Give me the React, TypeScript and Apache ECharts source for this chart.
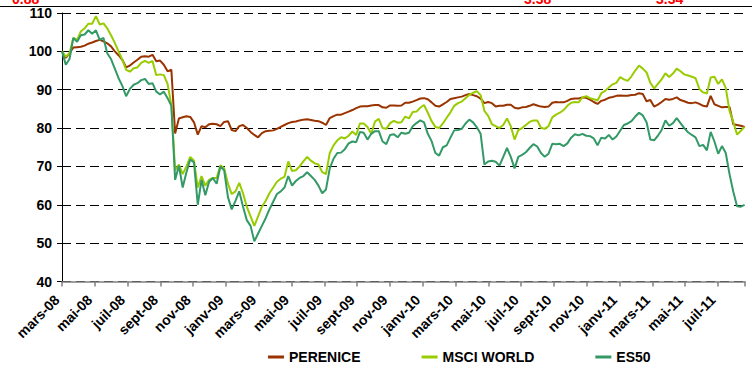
import React, { useEffect, useRef } from "react";
import * as echarts from "echarts";

const monthLabels = [
  "mars-08", "mai-08", "juil-08", "sept-08", "nov-08", "janv-09", "mars-09",
  "mai-09", "juil-09", "sept-09", "nov-09", "janv-10", "mars-10", "mai-10",
  "juil-10", "sept-10", "nov-10", "janv-11", "mars-11", "mai-11", "juil-11",
];

const seriesNames = ["PERENICE", "MSCI WORLD", "ES50"];
const seriesColors = ["#993300", "#99CC00", "#339966"];

// weekly closes from the first week of March 2008
const startDate = "2008-03-01";

const perenice = [
  100, 98.3, 99.5, 101, 101.1, 101.2, 101.5, 102, 102.3, 102.7,
  103, 102.6, 102.1, 101.3, 100, 99, 97.8, 95.8, 96.3, 97.1,
  97.8, 98.6, 98.7, 98.6, 99.1, 97.4, 97.6, 96.5, 94.8, 95.2,
  78.6, 82.5, 82.8, 83.1, 82.9, 81.5, 78.3, 80.5, 80.2, 81,
  81.1, 81, 80.5, 81.6, 81.8, 79.5, 79.2, 80.5, 80.8, 80,
  79, 78.2, 77.6, 78.7, 79.2, 79.3, 79.4, 79.8, 80.3, 80.8,
  81.3, 81.6, 81.7, 82, 82.2, 82.3, 82.1, 81.9, 81.8, 81.4,
  80.8, 82.6, 83.1, 83.5, 83.5, 83.9, 84.3, 84.7, 85.2, 85.6,
  85.7, 85.7, 85.9, 86, 86, 85.4, 85.3, 85.9, 85.9, 85.8,
  85.9, 86.6, 86.6, 86.9, 87.3, 87.7, 87.8, 87.5, 86.7, 85.8,
  85.6, 86.2, 86.8, 87.6, 87.8, 88, 88.2, 88.6, 88.9, 88.6,
  88.3, 87.7, 86.5, 86.8, 86.5, 85.6, 85.8, 85.8, 86.1, 86.1,
  85.3, 85.1, 85.4, 85.5, 85.8, 86.2, 85.9, 85.6, 85.5, 85.6,
  86.6, 86.8, 86.7, 86.7, 87.1, 87.6, 87.7, 87.7, 88, 87.9,
  87.4, 86.8, 86.3, 87.1, 87.4, 87.9, 88.1, 88.4, 88.5, 88.4,
  88.4, 88.6, 88.7, 89.1, 88.9, 87, 87.3, 85.6, 86.1, 86.8,
  87.6, 87.4, 87.6, 88, 87.3, 87, 86.6, 86.5, 86.7, 86.3,
  85.8, 85.6, 88.4, 86.2, 85.8, 85.4, 85.5, 85.5, 81, 80.8,
  80.6, 80.3,
];

const msciWorld = [
  100, 98.6, 99.5, 103.5, 103, 105.2, 106, 107.2, 107.2, 109.2,
  107, 107.3, 106, 104.2, 102.2, 100, 97.8, 95.2, 94.7, 95.6,
  95.8, 97, 97.5, 97, 97.5, 93.8, 94, 93.8, 91.5, 86,
  69, 70.5, 68, 70, 72.5, 71.5, 64.5, 67.5, 65, 66.5,
  67, 67, 70.3, 69.5, 65.5, 62.8, 63.5, 65.7, 63, 59.5,
  57, 54.5, 57, 59.5, 61, 63, 64.5, 66, 66.8, 67.3,
  71.3, 68.8, 69, 70, 71.3, 72.5, 71.5, 70.8, 70.5, 68.5,
  68, 73.5, 75.5, 76.8, 77.6, 77.3, 78, 79.1, 78.2, 81.2,
  81.2, 80.3, 78.5, 81.7, 82.4, 80, 79.8, 81.3, 81.9, 81.4,
  81.5, 83, 82.5, 84.2, 84.3, 85.3, 86, 84, 81.8, 80.3,
  80, 81.2, 82.7, 84.1, 85.8, 86.5, 86.9, 87.8, 88.7, 89.2,
  89.6, 88.6, 84.5, 83.2, 81, 80.5, 80, 80.8, 82.5, 80.5,
  77, 79.5, 80, 80.8, 81.6, 82, 82, 80.1, 79.8, 80.5,
  82.8, 83.5, 84, 84.7, 85.8, 86.6, 86.8, 86.7, 88, 88.3,
  87.8, 87.5, 87.2, 89.1, 89.7, 90.6, 91.4, 91.8, 93.3, 92.7,
  92.3, 93.5, 95, 96.3, 95.5, 94.5, 91.8, 90.3, 91.5, 92.7,
  94.3, 93.3, 94.2, 95.5, 94.8, 94, 93.7, 93.4, 93, 90.2,
  89.3, 89, 93.2, 93.4, 91.5, 92.7, 90.5, 84.5, 81.6, 78.3,
  79.3, 80.3,
];

const es50 = [
  100, 96.5, 98, 103.5, 102.5, 104.2, 104.4, 105.5, 104.6, 105.5,
  103, 103.5, 99.5, 98, 95.5, 93, 91, 88.3, 90.2, 91.3,
  91.7, 92.5, 92.8, 91.5, 91.7, 89.5, 88.8, 89.5, 87.8, 85.8,
  66.5, 70.2, 64.5, 68.5, 71.8, 71, 60, 66.5, 62.5, 66,
  67, 65.5, 70, 69, 62, 58.8, 61, 63.5, 59.5, 56,
  54.5, 50.5, 52.5, 54.5, 56.5, 58.8, 60.8, 62.8, 63.5, 64.5,
  67.5, 65, 66.2, 67, 67.5, 68.5, 67.5, 66.5, 65, 63,
  64, 69.5, 72, 73.5, 73.6, 74.5, 76, 76.5, 76.3, 79,
  78.8, 77, 78.5, 79.2, 79.2, 76.5, 75.8, 78.2, 78.4, 77.6,
  78.8, 78.5, 78.8, 80.5, 81.3, 82, 81.5, 78.5, 76.6, 73.5,
  72.8, 75, 75.5, 77.5, 79.4, 79.5, 79.8, 81.2, 82.2, 81.5,
  80.2, 78.5, 70.5, 71.3, 71.5, 71.2, 70.2, 72.5, 74.8, 72.5,
  69.5, 72.5, 73, 73.7, 74.8, 75.8, 75.2, 73.5, 72.5, 73.3,
  75.9, 75.8, 75.9, 75.3, 76, 77.5, 78.4, 78.1, 78.5, 78,
  77.9, 77.3, 75.5, 77.5, 77.3, 78.2, 77, 77.8, 79.3, 80.8,
  81.2, 81.8, 83, 84, 83.3, 81.5, 77, 76.8, 78, 79.5,
  82, 80.6, 81.3, 82.6, 81.3, 80, 78.9, 78.2, 77.6, 75.3,
  75.6, 74.2, 79, 76.5, 73.3, 75.3, 73.5, 68, 63.4, 59.6,
  59.5, 60,
];

const allSeries = [perenice, msciWorld, es50];

const DAY = 86400000;
const MONTH_DAYS = 365.25 / 12;
const axisEndMonths = 41.65;

function monthOffset(i: number): number {
  const t0 = Date.parse(startDate + "T00:00:00Z");
  const t = t0 + i * 7 * DAY;
  return (t - t0) / DAY / MONTH_DAYS;
}

const FONT = "Arial, 'Liberation Sans', sans-serif";
const LABEL_FONT = "bold 14px " + FONT;

export default function App() {
  const ref = useRef<HTMLDivElement>(null);

  useEffect(() => {
    document.body.style.margin = "0";
    if (!ref.current) return;
    const chart = echarts.init(ref.current, undefined, { renderer: "svg" });

    const series = allSeries.map((vals, k) => ({
      name: seriesNames[k],
      type: "line",
      data: vals.map((v, i) => [monthOffset(i), v]),
      showSymbol: false,
      symbol: "none",
      lineStyle: { width: 2, color: seriesColors[k] },
      itemStyle: { color: seriesColors[k] },
      z: 2 + k,
    }));

    chart.setOption({
      animation: false,
      backgroundColor: "#ffffff",
      grid: { left: 62, right: 7, top: 13, bottom: 83.5, containLabel: false },
      xAxis: {
        type: "value",
        min: 0,
        max: axisEndMonths,
        interval: 2,
        axisLine: { show: true, lineStyle: { color: "#808080", width: 1.5 } },
        axisTick: { show: true, length: 5, lineStyle: { color: "#808080", width: 1.5 } },
        splitLine: { show: false },
        axisLabel: { show: false },
      },
      yAxis: {
        type: "value",
        min: 40,
        max: 110,
        interval: 10,
        axisLine: { show: true, lineStyle: { color: "#000", width: 1 } },
        axisTick: { show: true, length: 5, lineStyle: { color: "#000" } },
        splitLine: { show: true, lineStyle: { color: "#000", width: 1, type: [9, 5] } },
        axisLabel: {
          margin: 10,
          fontFamily: FONT,
          fontWeight: "bold",
          fontSize: 14,
          color: "#000",
        },
      },
      legend: {
        data: seriesNames,
        left: 268,
        top: 350,
        icon: "rect",
        itemWidth: 16,
        itemHeight: 3,
        itemGap: 61,
        padding: 0,
        textStyle: { fontFamily: FONT, fontWeight: "bold", fontSize: 14, color: "#000" },
      },
      series,
    });

    // rotated month labels placed through the axis scale
    const axisY = chart.convertToPixel({ yAxisIndex: 0 }, 40) as number;
    const monthTexts = monthLabels.map((t, k) => {
      const px = chart.convertToPixel({ xAxisIndex: 0 }, 2 * k) as number;
      return {
        type: "text",
        x: px - 5,
        y: axisY + 16,
        rotation: Math.PI / 4,
        style: {
          text: t,
          fill: "#000",
          font: LABEL_FONT,
          align: "right",
          verticalAlign: "middle",
        },
      };
    });

    chart.setOption({
      graphic: [
        {
          type: "line",
          shape: { x1: 0, y1: 6.5, x2: 752, y2: 6.5 },
          style: { stroke: "#000", lineWidth: 1 },
        },
        {
          type: "text",
          x: 12,
          y: 6,
          style: { text: "0.88", fill: "#ff0000", font: LABEL_FONT, verticalAlign: "bottom" },
        },
        {
          type: "text",
          x: 524,
          y: 6,
          style: { text: "3.38", fill: "#ff0000", font: LABEL_FONT, verticalAlign: "bottom" },
        },
        {
          type: "text",
          x: 656,
          y: 6,
          style: { text: "3.34", fill: "#ff0000", font: LABEL_FONT, verticalAlign: "bottom" },
        },
        ...monthTexts,
      ],
    });

    return () => chart.dispose();
  }, []);

  return <div ref={ref} style={{ width: 752, height: 365 }} />;
}
